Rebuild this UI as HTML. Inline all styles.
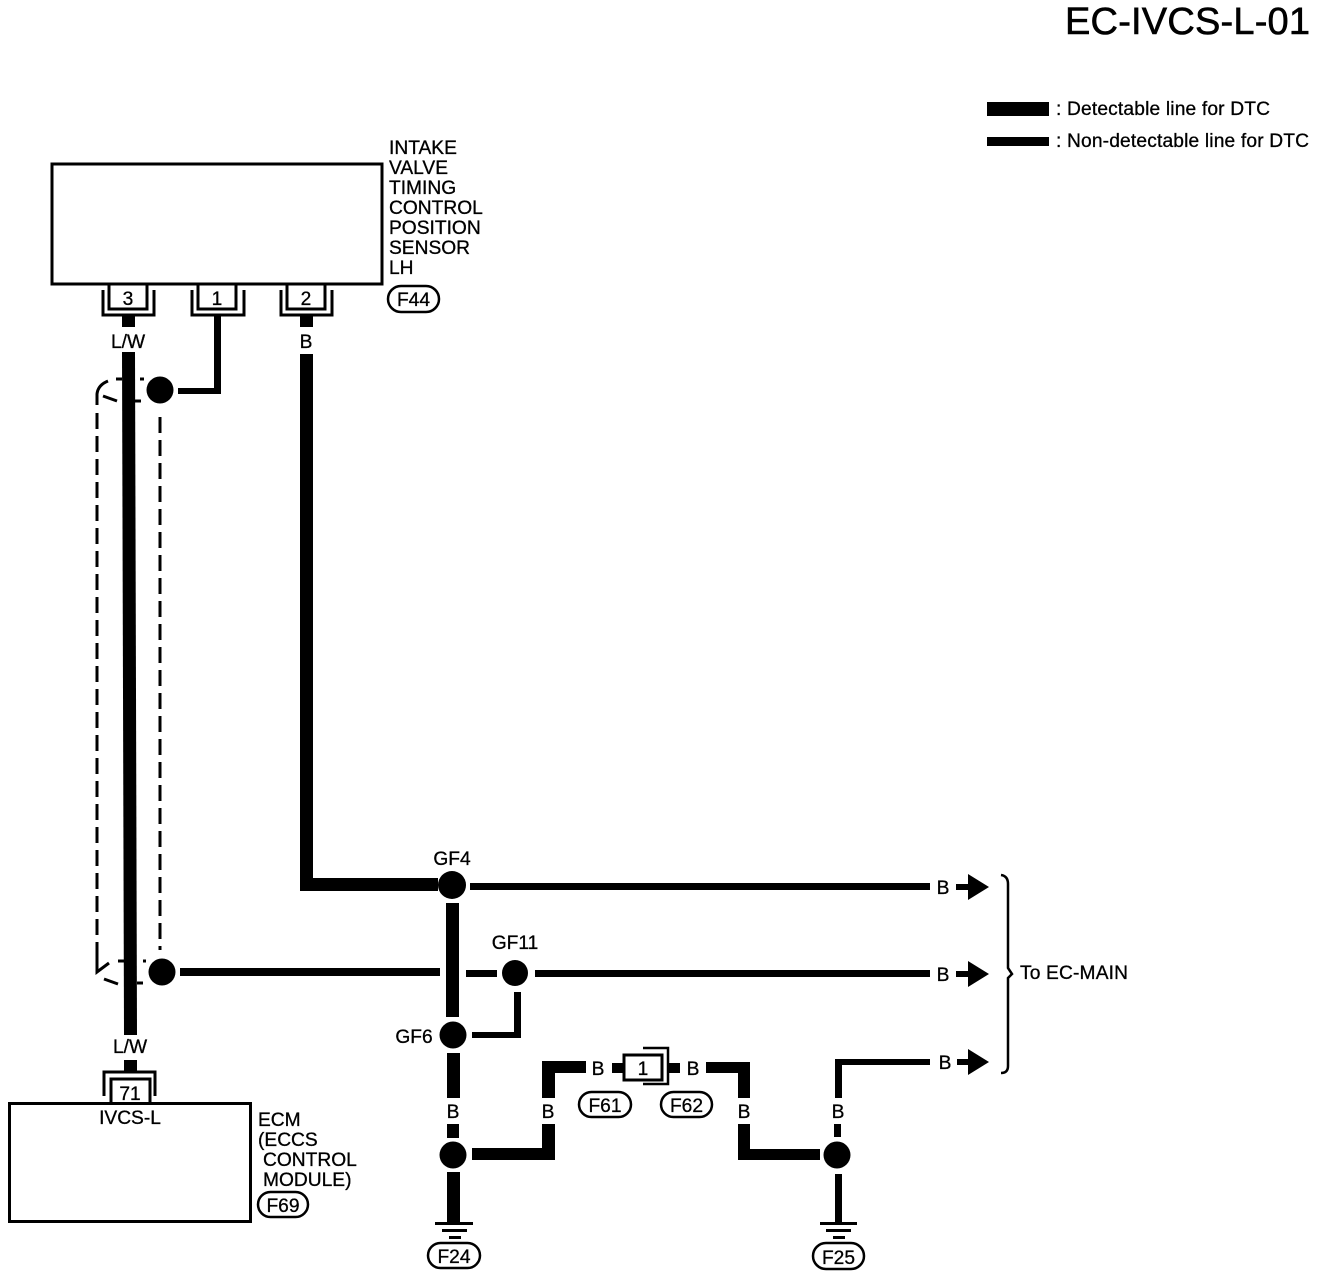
<!DOCTYPE html>
<html><head><meta charset="utf-8"><style>
html,body{margin:0;padding:0;background:#fff}
svg{display:block}
text{font-family:"Liberation Sans",sans-serif;font-size:19.2px;fill:#000;stroke:#000;stroke-width:.3px}
.m{text-anchor:middle}
</style></head><body>
<svg width="1328" height="1276" viewBox="0 0 1328 1276" xmlns="http://www.w3.org/2000/svg">
<rect width="1328" height="1276" fill="#fff"/>
<text x="1065" y="34" style="font-size:38px;stroke-width:.6px" textLength="245">EC-IVCS-L-01</text>
<rect x="987" y="102" width="62" height="14"/>
<rect x="987" y="137" width="62" height="9"/>
<text x="1056" y="115" textLength="214">: Detectable line for DTC</text>
<text x="1056" y="147" textLength="253">: Non-detectable line for DTC</text>

<!-- top box -->
<rect x="52" y="164" width="330" height="120" fill="none" stroke="#000" stroke-width="3"/>
<text x="389" y="154">INTAKE</text>
<text x="389" y="174">VALVE</text>
<text x="389" y="194">TIMING</text>
<text x="389" y="214">CONTROL</text>
<text x="389" y="234">POSITION</text>
<text x="389" y="254">SENSOR</text>
<text x="389" y="274">LH</text>
<rect x="388" y="286" width="51" height="26" rx="13" fill="#fff" stroke="#000" stroke-width="2.500"/>
<text x="413.500" y="306" class="m">F44</text>

<g fill="none" stroke="#000" stroke-width="3">
<path d="M109 284V309H147V284"/><path d="M103 290V315H154V290"/>
<path d="M198 284V309H236V284"/><path d="M192 290V315H244V290"/>
<path d="M287 284V309H325V284"/><path d="M281 290V315H332V290"/>
</g>
<text x="128" y="305" class="m">3</text>
<text x="217" y="305" class="m">1</text>
<text x="306" y="305" class="m">2</text>

<!-- wires top -->
<rect x="122" y="315" width="13" height="12"/>
<text x="128" y="348" class="m">L/W</text>
<path d="M122 352H135L137 1035H124Z"/>
<text x="130" y="1053" class="m">L/W</text>
<rect x="124" y="1060" width="13" height="11"/>
<rect x="300" y="315" width="13" height="12"/>
<text x="306" y="348" class="m">B</text>
<path d="M300 354H313V878H438V891H300Z"/>
<path d="M214 315H221V394H178V388H214Z"/>
<circle cx="160" cy="390" r="13.500"/>

<!-- shield -->
<g fill="none" stroke="#000" stroke-width="3">
<path d="M160 417V950" stroke-dasharray="16 7"/>
<path d="M97 413V962" stroke-dasharray="16 7"/>
<path d="M97 405V394Q98 385 108 381"/>
<path d="M103 396L117 401"/>
<path d="M116 379H122M140 379H144M135 401H141"/>
<path d="M97 958V972L109 963"/>
<path d="M104 979L118 984"/>
<path d="M118 961H124M143 961H146M137 983H143"/>
</g>
<circle cx="162" cy="972" r="13.500"/>
<rect x="180" y="968" width="260" height="8"/>

<!-- GF4 etc -->
<circle cx="452" cy="885" r="14"/>
<text x="452" y="865" class="m">GF4</text>
<rect x="470" y="883" width="460" height="7"/>
<rect x="446" y="903" width="13" height="114"/>
<rect x="466" y="970" width="31" height="7"/>
<circle cx="515" cy="973" r="13"/>
<text x="515" y="949" class="m">GF11</text>
<rect x="535" y="970" width="395" height="7"/>
<path d="M514 992H521V1038H472V1032H514Z"/>
<circle cx="453" cy="1035" r="13.500"/>
<text x="414" y="1043" class="m">GF6</text>
<rect x="447" y="1053" width="13" height="45"/>
<text x="453" y="1118" class="m">B</text>
<rect x="447" y="1124" width="12" height="14"/>
<circle cx="453" cy="1155" r="13.500"/>
<path d="M472 1148H542V1124H555V1160H472Z"/>
<path d="M542 1061H586V1073H555V1098H542Z"/>
<text x="548" y="1118" class="m">B</text>
<text x="598" y="1075" class="m">B</text>
<rect x="612" y="1063" width="11" height="10"/>
<rect x="624" y="1055" width="38" height="25" fill="#fff" stroke="#000" stroke-width="3"/>
<text x="643" y="1075" class="m">1</text>
<path d="M643 1048H668V1084H643" fill="none" stroke="#000" stroke-width="2.500"/>
<rect x="668" y="1063" width="12" height="10"/>
<text x="693" y="1075" class="m">B</text>
<path d="M706 1062H750V1098H738V1073H706Z"/>
<text x="744" y="1118" class="m">B</text>
<path d="M738 1124H750V1149H820V1160H738Z"/>
<circle cx="837" cy="1155" r="13.500"/>
<path d="M835 1059H930V1065H842V1098H835Z"/>
<text x="838" y="1118" class="m">B</text>
<rect x="834" y="1124" width="7" height="13"/>
<rect x="835" y="1174" width="7" height="48"/>

<!-- grounds -->
<rect x="447" y="1172" width="13" height="50"/>
<rect x="435" y="1222" width="38" height="3"/>
<rect x="442" y="1229" width="25" height="3"/>
<rect x="449" y="1236" width="12" height="3"/>
<rect x="820" y="1222" width="37" height="3"/>
<rect x="826" y="1229" width="25" height="3"/>
<rect x="833" y="1236" width="12" height="3"/>
<g fill="#fff" stroke="#000" stroke-width="2.500">
<rect x="428" y="1243" width="52" height="25" rx="12.500"/>
<rect x="813" y="1243" width="51" height="26" rx="13"/>
<rect x="579" y="1092" width="52" height="25" rx="12.500"/>
<rect x="661" y="1092" width="51" height="25" rx="12.500"/>
<rect x="258" y="1192" width="50" height="25" rx="12.500"/>
</g>
<text x="454" y="1263" class="m">F24</text>
<text x="838.500" y="1264" class="m">F25</text>
<text x="605" y="1112" class="m">F61</text>
<text x="686.500" y="1112" class="m">F62</text>

<!-- arrows -->
<text x="943" y="894" class="m">B</text>
<text x="943" y="981" class="m">B</text>
<text x="945" y="1069" class="m">B</text>
<path d="M956 884H968V874L989 887L968 900V890H956Z"/>
<path d="M956 971H968V961L989 974L968 987V977H956Z"/>
<path d="M957 1059H968V1049L989 1062L968 1075V1065H957Z"/>
<path d="M1001 875Q1008 876 1008 884V968L1012 974L1008 978V1066Q1008 1073 1001 1073" fill="none" stroke="#000" stroke-width="2.500"/>
<text x="1020" y="979" textLength="108">To EC-MAIN</text>

<!-- ECM -->
<path d="M104 1096V1072H155V1096" fill="none" stroke="#000" stroke-width="3"/>
<path d="M111 1103V1079H150V1103" fill="none" stroke="#000" stroke-width="3"/>
<text x="130" y="1100" class="m">71</text>
<rect x="9.500" y="1103.500" width="241" height="118" fill="none" stroke="#000" stroke-width="3"/>
<text x="130" y="1124" class="m">IVCS-L</text>
<text x="258" y="1126">ECM</text>
<text x="258" y="1146">(ECCS</text>
<text x="263" y="1166">CONTROL</text>
<text x="263" y="1186">MODULE)</text>
<text x="283" y="1212" class="m">F69</text>
</svg>
</body></html>
